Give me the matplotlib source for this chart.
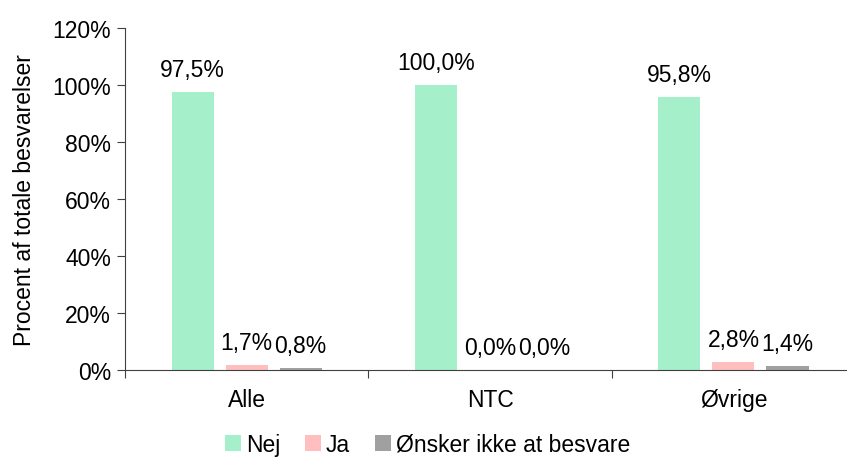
import numpy as np
import matplotlib.pyplot as plt
from matplotlib.ticker import FuncFormatter

plt.rcParams['font.family'] = ['Liberation Sans', 'DejaVu Sans']

categories = ['Alle', 'NTC', 'Øvrige']
series = ['Nej', 'Ja', 'Ønsker ikke at besvare']
nej = [97.5, 100.0, 95.8]
ja = [1.7, 0.0, 2.8]
ikke = [0.8, 0.0, 1.4]
colors = ['#a6efcb', '#ffbfbf', '#a0a0a0']

fs = 16.5

fig = plt.figure(figsize=(8.47, 4.6), dpi=100)
ax = fig.add_axes([0.1476, 0.1935, 0.862, 0.7435])

x = np.arange(len(categories))
width = 0.173
offsets = [-0.222, 0, 0.222]
for vals, off, col, name in zip([nej, ja, ikke], offsets, colors, series):
    bars = ax.bar(x + off, vals, width, color=col, label=name)
    for b, v in zip(bars, vals):
        ax.annotate(f'{v:.1f}%'.replace('.', ','), (b.get_x() + b.get_width() / 2, v),
                    xytext=(0, 8), textcoords='offset points',
                    ha='center', va='bottom', fontsize=fs)

ax.set_xlim(-0.5, 2.5)
ax.set_ylim(0, 120)
ax.set_yticks(range(0, 121, 20))
ax.yaxis.set_major_formatter(FuncFormatter(lambda v, p: f'{v:.0f}%'))
ax.set_xticks([-0.5, 0.5, 1.5, 2.5])
ax.set_xticklabels([])
ax.set_xticks(x, minor=True)
ax.set_xticklabels(categories, minor=True)
ax.tick_params(axis='x', which='minor', length=0, pad=13, labelsize=fs)
ax.tick_params(axis='x', which='major', length=6, direction='out', color='#404040')
ax.tick_params(axis='y', length=6, direction='out', labelsize=fs, color='#404040', pad=4)
for s in ['top', 'right']:
    ax.spines[s].set_visible(False)
for s in ['left', 'bottom']:
    ax.spines[s].set_color('#404040')
ax.set_ylabel('Procent af totale besvarelser', fontsize=fs, labelpad=12)

fig.legend(loc='lower center', bbox_to_anchor=(0.505, -0.038), ncol=3, frameon=False,
           fontsize=fs, handlelength=0.7, handleheight=0.7, handletextpad=0.2,
           columnspacing=1.1)

fig.savefig('out.png', dpi=100)
